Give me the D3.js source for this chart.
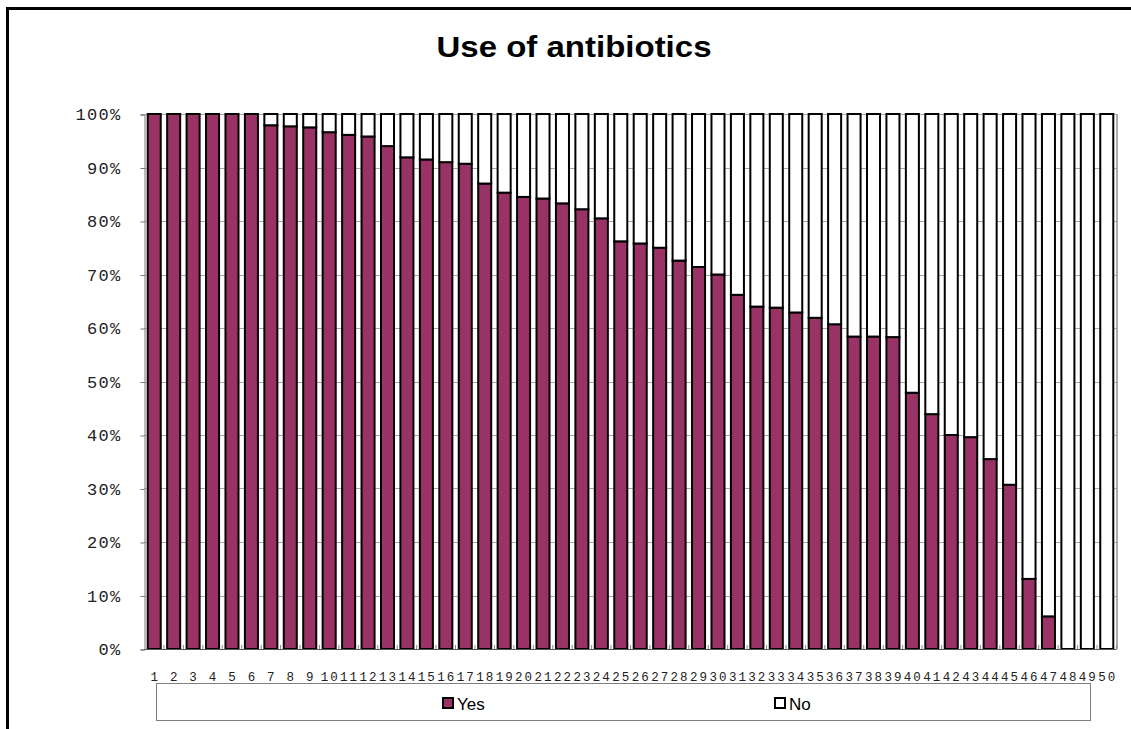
<!DOCTYPE html>
<html><head><meta charset="utf-8">
<script src="https://cdn.jsdelivr.net/npm/d3@7"></script>
<style>body{margin:0;background:#fff} svg{display:block}</style>
</head><body>
<svg id="chart" width="1131" height="729"></svg>
<script>
const categories = ["1","2","3","4","5","6","7","8","9","10","11","12","13","14","15","16","17","18","19","20","21","22","23","24","25","26","27","28","29","30","31","32","33","34","35","36","37","38","39","40","41","42","43","44","45","46","47","48","49","50"];
const yesValues = [100,100,100,100,100,100,97.9,97.7,97.5,96.6,96.1,95.8,94.0,91.9,91.5,91.0,90.7,87.0,85.3,84.5,84.2,83.3,82.2,80.5,76.2,75.8,75.0,72.6,71.4,70.0,66.2,64.0,63.8,62.9,61.9,60.7,58.4,58.4,58.3,47.9,43.9,40.0,39.6,35.5,30.7,13.1,6.1,0,0,0];
const noValues = [0,0,0,0,0,0,2.1,2.3,2.5,3.4,3.9,4.2,6.0,8.1,8.5,9.0,9.3,13.0,14.7,15.5,15.8,16.7,17.8,19.5,23.8,24.2,25.0,27.4,28.6,30.0,33.8,36.0,36.2,37.1,38.1,39.3,41.6,41.6,41.7,52.1,56.1,60.0,60.4,64.5,69.3,86.9,93.9,100,100,100];
const yTicks = [0,10,20,30,40,50,60,70,80,90,100];
const yTickLabels = ["0%","10%","20%","30%","40%","50%","60%","70%","80%","90%","100%"];
const seriesNames = ["Yes","No"];
const seriesColors = ["#993366","#ffffff"];
const titleText = "Use of antibiotics";

const svg = d3.select("#chart");
const M = {left:144.5, right:1116.5, top:114, bottom:649};

const x = d3.scaleBand().domain(categories).range([M.left, M.right]).paddingInner(0.33).paddingOuter(0.165);
const y = d3.scaleLinear().domain([0,100]).range([M.bottom, M.top]);

// outer frame (left and top only visible)
svg.append("line").attr("x1",7.5).attr("y1",7).attr("x2",7.5).attr("y2",729).attr("stroke","#000").attr("stroke-width",3);
svg.append("line").attr("x1",6).attr("y1",8.5).attr("x2",1131).attr("y2",8.5).attr("stroke","#000").attr("stroke-width",3);

// title
svg.append("text").attr("x",574).attr("y",56.5).attr("text-anchor","middle")
  .attr("font-family","'Liberation Sans', Arial, sans-serif").attr("font-weight","bold").attr("font-size",30)
  .attr("textLength",275).attr("lengthAdjust","spacingAndGlyphs").attr("fill","#000").text(titleText);

// gridlines
svg.append("g").selectAll("line").data(yTicks).join("line")
  .attr("x1",M.left).attr("x2",M.right)
  .attr("y1",d=>Math.round(y(d))+0.5).attr("y2",d=>Math.round(y(d))+0.5)
  .attr("stroke","#a8a8a8").attr("stroke-width",1);
// right border
svg.append("line").attr("x1",M.right+0.5).attr("x2",M.right+0.5).attr("y1",M.top).attr("y2",M.bottom)
  .attr("stroke","#909090").attr("stroke-width",1.5);

// y axis
const yAxis = d3.axisLeft(y).tickValues(yTicks).tickFormat((d,i)=>yTickLabels[i]).tickSize(4).tickPadding(19);
const gy = svg.append("g").attr("transform",`translate(${M.left},0.5)`).call(yAxis);
gy.select(".domain").attr("stroke","#777");
gy.selectAll(".tick line").attr("stroke","#777");
gy.selectAll(".tick text").attr("font-family","'Liberation Mono', monospace").attr("font-size",17)
  .attr("letter-spacing","1.3px").attr("fill","#222");

// stacked bars
const rows = categories.map((c,i)=>({cat:c, Yes:yesValues[i], No:noValues[i]}));
const stack = d3.stack().keys(seriesNames)(rows);
const color = d3.scaleOrdinal().domain(seriesNames).range(seriesColors);
svg.append("g").selectAll("g").data(stack).join("g")
  .attr("fill",d=>color(d.key))
  .selectAll("rect").data(d=>d).join("rect")
  .attr("x",d=>x(d.data.cat)).attr("width",x.bandwidth())
  .attr("y",d=>y(d[1])).attr("height",d=>y(d[0])-y(d[1]))
  .attr("stroke","#000").attr("stroke-width",2);

// x axis line and inner tick marks between bars
svg.append("line").attr("x1",M.left).attr("x2",M.right).attr("y1",M.bottom+0.5).attr("y2",M.bottom+0.5)
  .attr("stroke","#555").attr("stroke-width",1);
svg.append("g").selectAll("line").data(categories).join("line")
  .attr("x1",d=>x(d)+x.bandwidth()+(x.step()-x.bandwidth())/2)
  .attr("x2",d=>x(d)+x.bandwidth()+(x.step()-x.bandwidth())/2)
  .attr("y1",M.bottom).attr("y2",M.bottom-4).attr("stroke","#888").attr("stroke-width",1);

// x labels
svg.append("g").selectAll("text").data(categories).join("text")
  .attr("x",d=>x(d)+x.bandwidth()/2+1).attr("y",681).attr("text-anchor","middle")
  .attr("font-family","'Liberation Mono', monospace").attr("font-size",12.5).attr("letter-spacing","2px")
  .attr("fill","#222").text(d=>d);

// legend
svg.append("rect").attr("x",156.5).attr("y",683.5).attr("width",934).attr("height",37)
  .attr("fill","#fff").attr("stroke","#808080").attr("stroke-width",1);
const legendPos = [442, 774];
const lg = svg.append("g").selectAll("g").data(seriesNames).join("g")
  .attr("transform",(d,i)=>`translate(${legendPos[i]},0)`);
lg.append("rect").attr("x",1).attr("y",698).attr("width",10).attr("height",10)
  .attr("fill",d=>color(d)).attr("stroke","#000").attr("stroke-width",2);
lg.append("text").attr("x",15).attr("y",710).attr("font-family","'Liberation Sans', Arial, sans-serif")
  .attr("font-size",17).attr("fill","#000").text(d=>d);
</script>
</body></html>
